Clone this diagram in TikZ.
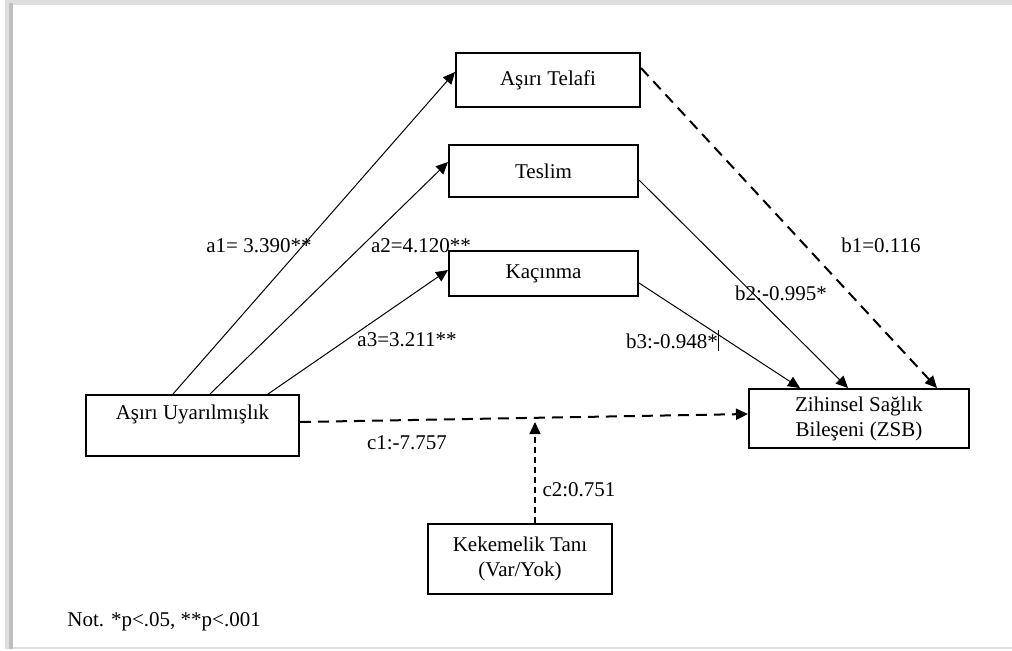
\documentclass[tikz,border=0pt]{standalone}
\usepackage{fontspec}
\setmainfont{Liberation Serif}
\usetikzlibrary{arrows.meta,calc}
\begin{document}
\begin{tikzpicture}[x=0.5pt,y=-0.5pt,
  font=\fontsize{10.5pt}{12.5pt}\selectfont,
  box/.style={draw, line width=1pt, align=center, inner sep=0pt},
  solidarr/.style={line width=0.5pt, -{Triangle[length=6pt,width=5.5pt]}},
  dasharr/.style={line width=1pt, dash pattern=on 5.5pt off 3.5pt, -{Triangle[length=6pt,width=5.5pt]}},
  lbl/.style={inner sep=0pt}]
\useasboundingbox (0,0) rectangle (1012,650);
% page frame with shadow
\fill[white] (0,0) rectangle (1012,650);
\fill[gray!25] (5,0) rectangle (1012,649);
\fill[gray!50] (9,3) rectangle (13,649);
\fill[white] (13,5) rectangle (1012,647);

% boxes
\node[box, minimum width=92pt, minimum height=27pt] (AT) at (548,80) {Aşırı Telafi};
\node[box, minimum width=94.5pt, minimum height=26pt] (TS) at (543.5,171) {Teslim};
\node[box, minimum width=94.5pt, minimum height=22.5pt] (KC) at (543.5,273.5) {Kaçınma};
\node[box, minimum width=106.5pt, minimum height=30.5pt, text depth=13pt] (AU) at (192.5,425.5) {Aşırı Uyarılmışlık};
\node[box, minimum width=110pt, minimum height=29.5pt] (ZSB) at (859,418.5) {Zihinsel Sağlık\\Bileşeni (ZSB)};
\node[box, minimum width=92pt, minimum height=35pt] (KT) at (520,559) {Kekemelik Tanı\\(Var/Yok)};

% a paths
\draw[solidarr] ([xshift=-9.75pt]AU.north) -- ([yshift=4pt]AT.west);
\draw[solidarr] ([xshift=8.75pt]AU.north) -- ([yshift=4.5pt]TS.west);
\draw[solidarr] ([xshift=37.75pt]AU.north) -- ([yshift=1.75pt]KC.west);
% b paths
\draw[dasharr] ([yshift=6pt]AT.east) -- ([xshift=39pt]ZSB.north);
\draw[solidarr] ([yshift=-4.5pt]TS.east) -- ([xshift=-5.5pt]ZSB.north);
\draw[solidarr] ([yshift=-4.75pt]KC.east) -- ([xshift=-29.5pt]ZSB.north);
% c paths
\draw[dasharr] ([yshift=1.75pt]AU.east) -- ([yshift=2.25pt]ZSB.west);
\coordinate (M) at (535,422);
\draw[line width=0.8pt, dash pattern=on 3pt off 2pt, -{Triangle[length=6pt,width=5.5pt]}] ([xshift=7.5pt]KT.north) -- (M);

% labels
\node[lbl] (la1) at (259,246) {a1= 3.390**};
\node[lbl] (la2) at (421,246) {a2=4.120**};
\node[lbl] (la3) at (407,340) {a3=3.211**};
\node[lbl] (lb1) at (881,245) {b1=0.116};
\node[lbl] (lb2) at (781,293) {b2:-0.995*};
\node[lbl] (lb3) at (672,341) {b3:-0.948*};
\coordinate (cur1) at (718,330);
\coordinate (cur2) at (718,351);
\draw[line width=0.4pt] (cur1) -- (cur2);
\node[lbl] (lc1) at (407,443) {c1:-7.757};
\node[lbl] (lc2) at (579,490) {c2:0.751};
\node[lbl, anchor=west] (note) at (67,622) {Not. *p<.05, **p<.001};
\end{tikzpicture}
\end{document}
